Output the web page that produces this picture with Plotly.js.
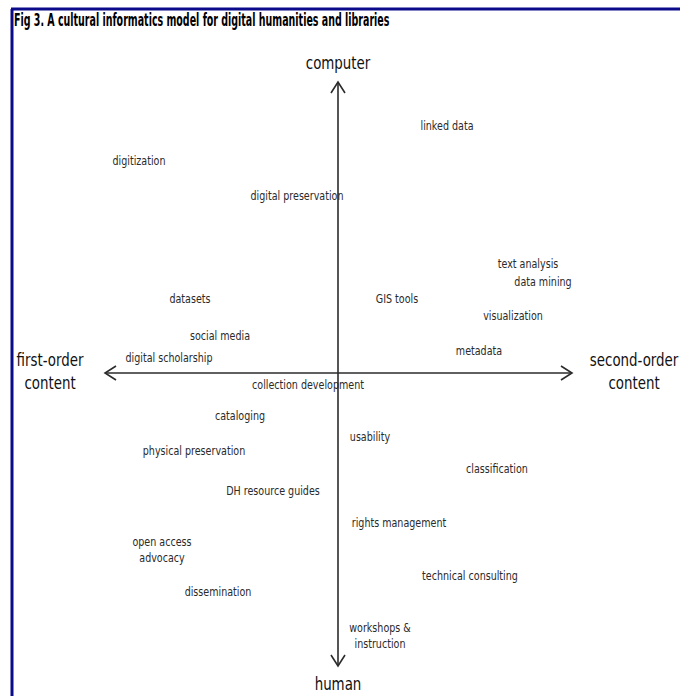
<!DOCTYPE html>
<html>
<head>
<meta charset="utf-8">
<script src="https://cdn.plot.ly/plotly-3.0.1.min.js"></script>
<style>html,body{margin:0;padding:0;background:#fff;}#chart{width:680px;height:696px;}</style>
</head>
<body>
<div id="chart"></div>
<script>
// Concept labels placed on the two-axis model (x: first-order -> second-order, y: human -> computer)
const itemLabels = [
  "linked data", "digitization", "digital preservation", "text analysis", "data mining",
  "GIS tools", "visualization", "metadata", "datasets", "social media",
  "digital scholarship", "collection development", "cataloging", "usability",
  "physical preservation", "classification", "DH resource guides", "rights management",
  "open access<br>advocacy", "technical consulting", "dissemination", "workshops &<br>instruction"
];
const itemX = [109, -199, -41, 190, 205, 59, 175, 141, -148, -118, -169, -30, -98, 32, -144, 159, -65, 61, -176, 132, -120, 42];
const itemY = [246, 211, 176, 108, 90, 73, 56, 21, 73, 36, 14, -13, -44, -65, -79, -97, -119, -151, -178, -204, -220, -264];

// Axis ends and pole labels
const axisX = [-233, 234];      // horizontal arrow: first-order <-> second-order
const axisY = [-293, 291];      // vertical arrow: human <-> computer
const poleLabels = ["computer", "human", "first-order<br>content", "second-order<br>content"];
const poleX = [0, 0, -288, 296];
const poleY = [308, -313, 0, 0];

const titleText = "Fig 3. A cultural informatics model for digital humanities and libraries";

const fontFam = "'DejaVu Sans Condensed', 'Liberation Sans Narrow', sans-serif";
const lineColor = "#2b2b2b";
const headLen = 11, headHalf = 7;

const traces = [];
const ln = {color: lineColor, width: 1.6};
traces.push({x: [axisX[0], axisX[1]], y: [0, 0], mode: "lines", line: ln, hoverinfo: "skip"});
traces.push({x: [axisX[0] + headLen, axisX[0], axisX[0] + headLen], y: [headHalf, 0, -headHalf], mode: "lines", line: ln, hoverinfo: "skip"});
traces.push({x: [axisX[1] - headLen, axisX[1], axisX[1] - headLen], y: [headHalf, 0, -headHalf], mode: "lines", line: ln, hoverinfo: "skip"});
traces.push({x: [0, 0], y: [axisY[0], axisY[1]], mode: "lines", line: ln, hoverinfo: "skip"});
traces.push({x: [-headHalf, 0, headHalf], y: [axisY[1] - headLen, axisY[1], axisY[1] - headLen], mode: "lines", line: ln, hoverinfo: "skip"});
traces.push({x: [-headHalf, 0, headHalf], y: [axisY[0] + headLen, axisY[0], axisY[0] + headLen], mode: "lines", line: ln, hoverinfo: "skip"});

traces.push({
  x: itemX, y: itemY, text: itemLabels, mode: "text", textposition: "middle center",
  textfont: {family: fontFam, size: 12.5, color: "#2a2a2a"}, hoverinfo: "text"
});
traces.push({
  x: poleX, y: poleY, text: poleLabels, mode: "text", textposition: "middle center",
  textfont: {family: fontFam, size: 17.5, color: "#111"}, hoverinfo: "text"
});

const layout = {
  width: 680, height: 696,
  margin: {l: 0, r: 0, t: 0, b: 0},
  paper_bgcolor: "#fff", plot_bgcolor: "#fff",
  showlegend: false,
  xaxis: {range: [-338, 342], visible: false, fixedrange: true},
  yaxis: {range: [-323, 373], visible: false, fixedrange: true},
  title: {
    text: "<b>" + titleText + "</b>",
    x: 14 / 680, xanchor: "left", xref: "container",
    y: 1 - 19.5 / 696, yanchor: "middle", yref: "container",
    font: {family: fontFam, size: 17.5, color: "#000"}
  },
  shapes: [
    {type: "line", xref: "paper", yref: "paper", x0: 11 / 680, x1: 1, y0: 1 - 9 / 696, y1: 1 - 9 / 696, line: {color: "#0a0a8a", width: 3}},
    {type: "line", xref: "paper", yref: "paper", x0: 12 / 680, x1: 12 / 680, y0: 0, y1: 1 - 9 / 696, line: {color: "#0a0a8a", width: 3}}
  ]
};

Plotly.newPlot("chart", traces, layout, {displayModeBar: false, staticPlot: true}).then(function (gd) {
  // emulate the condensed typeface of the original by narrowing glyphs horizontally
  const groups = gd.querySelectorAll("g.textpoint text");
  groups.forEach(function (t) {
    t.style.transformBox = "fill-box";
    t.style.transformOrigin = "center";
    t.style.transform = "scaleX(0.85)";
  });
  const title = gd.querySelector(".gtitle");
  if (title) {
    title.style.transformBox = "fill-box";
    title.style.transformOrigin = "left center";
    title.style.transform = "scaleX(0.603)";
  }
});
</script>
</body>
</html>
